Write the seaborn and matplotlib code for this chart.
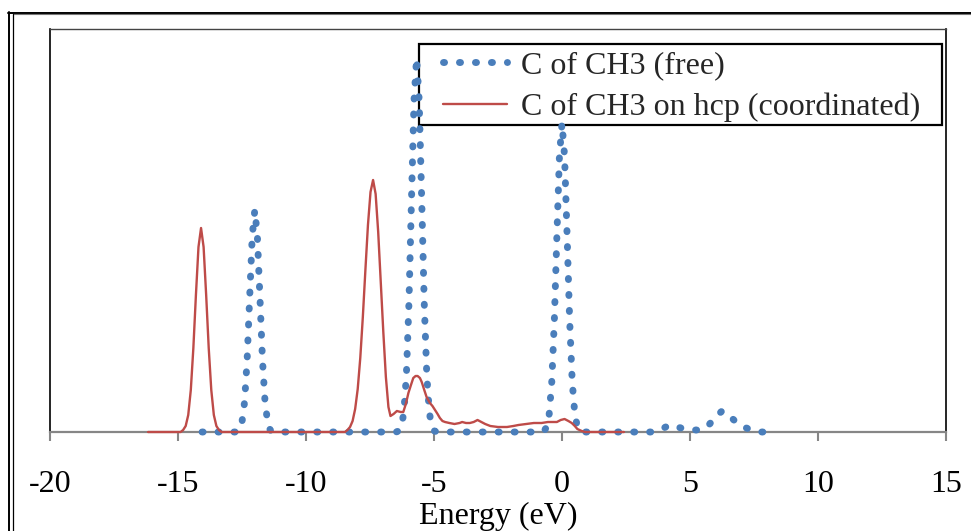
import matplotlib
matplotlib.use("Agg")
import matplotlib.pyplot as plt
import pandas as pd
import seaborn as sns
from matplotlib.lines import Line2D
from matplotlib.patches import Rectangle

# DOS values (arbitrary units)
energy_free = [
    -14.06, -12.7, -12.6, -12.5, -12.4, -12.3, -12.2, -12.1, -12.0, -11.9,
    -11.8, -11.7, -11.6, -11.5, -11.4, -11.3,
    -6.48, -6.38, -6.28, -6.18, -6.08, -5.98, -5.88, -5.78, -5.68, -5.58,
    -5.48, -5.38, -5.28, -5.18, -5.08, -4.98, -4.88,
    -0.8, -0.7, -0.6, -0.5, -0.4, -0.3, -0.2, -0.1, 0.0, 0.1, 0.2, 0.3,
    0.4, 0.5, 0.6, 0.7, 0.8,
    3.5, 3.9, 4.2, 4.5, 4.8, 5.1, 5.4, 5.7, 6.0, 6.25, 6.5, 6.8, 7.1,
    7.4, 7.7, 8.4,
]
dos_free = [
    0, 0, 0.02, 0.10, 0.30, 0.72, 1.35, 1.96, 2.22, 1.96,
    1.35, 0.72, 0.30, 0.10, 0.02, 0,
    0, 0.01, 0.05, 0.19, 0.56, 1.28, 2.32, 3.32, 3.74, 3.32,
    2.32, 1.28, 0.56, 0.19, 0.05, 0.01, 0,
    0, 0.01, 0.05, 0.18, 0.50, 1.11, 1.96, 2.76, 3.09, 2.76, 1.96, 1.11,
    0.50, 0.18, 0.05, 0.01, 0,
    0, 0.03, 0.07, 0.05, 0.03, 0.02, 0.02, 0.06, 0.15, 0.21, 0.17, 0.10,
    0.05, 0.02, 0, 0,
]
energy_coord = [
    -16.17, -14.9, -14.8, -14.7, -14.6, -14.5, -14.4, -14.3, -14.2, -14.1,
    -14.0, -13.9, -13.8, -13.7, -13.6, -13.5, -13.4, -13.3,
    -8.48, -8.38, -8.28, -8.18, -8.08, -7.98, -7.88, -7.78, -7.68, -7.58,
    -7.48, -7.38, -7.28, -7.18, -7.08, -6.98, -6.88, -6.78, -6.70, -6.58,
    -6.45, -6.30, -6.20, -6.10, -6.00, -5.90, -5.81, -5.72, -5.64, -5.55,
    -5.48, -5.38, -5.29, -5.16, -5.06, -4.96, -4.86, -4.77, -4.67, -4.57,
    -4.40, -4.20, -4.00, -3.90, -3.75, -3.60, -3.45, -3.30, -3.15, -3.00,
    -2.80, -2.50, -2.15, -1.90, -1.70, -1.40, -1.10, -0.80, -0.55, -0.35,
    -0.20, -0.05, 0.10, 0.25, 0.38, 0.50, 0.60, 0.77, 0.90, 2.42,
]
dos_coord = [
    0, 0, 0.02, 0.06, 0.17, 0.42, 0.84, 1.37, 1.85, 2.04,
    1.85, 1.37, 0.84, 0.42, 0.17, 0.06, 0.02, 0,
    0, 0.02, 0.05, 0.11, 0.23, 0.43, 0.74, 1.15, 1.62, 2.07,
    2.40, 2.52, 2.38, 2.00, 1.50, 1.00, 0.55, 0.25, 0.16, 0.18,
    0.21, 0.20, 0.20, 0.28, 0.39, 0.47, 0.54, 0.56, 0.56, 0.54,
    0.50, 0.42, 0.35, 0.29, 0.26, 0.22, 0.18, 0.14, 0.11, 0.10,
    0.09, 0.08, 0.09, 0.10, 0.09, 0.09, 0.10, 0.12, 0.10, 0.08,
    0.06, 0.05, 0.05, 0.06, 0.07, 0.08, 0.09, 0.09, 0.10, 0.10,
    0.10, 0.12, 0.13, 0.11, 0.09, 0.06, 0.03, 0.01, 0, 0,
]
series_labels = ["C of CH3 (free)", "C of CH3 on hcp (coordinated)"]
x_ticks = [-20, -15, -10, -5, 0, 5, 10, 15]

sns.set_theme(style="white")
plt.rcParams["font.family"] = ["Liberation Serif", "DejaVu Serif"]
plt.rcParams["axes.unicode_minus"] = False

W, H = 971, 531


def fx(px):
    return px / W


def fy(py):
    return 1 - py / H


fig = plt.figure(figsize=(W / 100, H / 100), dpi=100)
ax = fig.add_axes([fx(50), fy(432), fx(946) - fx(50), fy(29) - fy(432)])

blue = "#4A7EBB"
red = "#BE4B48"
gray = "#868686"

df_free = pd.DataFrame({"energy": energy_free, "dos": dos_free})
df_coord = pd.DataFrame({"energy": energy_coord, "dos": dos_coord})
sns.lineplot(data=df_free, x="energy", y="dos", ax=ax, color=blue,
             estimator=None, sort=False)
sns.lineplot(data=df_coord, x="energy", y="dos", ax=ax, color=red,
             estimator=None, sort=False)
line_free, line_coord = ax.lines[0], ax.lines[1]
line_free.set_linewidth(5.0)
line_free.set_linestyle((0, (0.15, 2.15)))
line_free.set_dash_capstyle("round")
line_coord.set_linewidth(1.7)
line_coord.set_linestyle("-")
for ln in ax.lines:
    ln.set_clip_on(False)
    ln.set_zorder(3)

ax.set_xlim(-20, 15)
ax.set_ylim(0, 4.03)
ax.set_xticks(x_ticks)
ax.set_xticklabels([str(t) for t in x_ticks])
ax.set_yticks([])
ax.tick_params(axis="x", bottom=True, direction="out", length=6.5, width=1.5,
               color=gray, labelsize=23, pad=21, labelcolor="black")
ax.set_xlabel("Energy (eV)", fontsize=23, labelpad=2, color="black")
ax.set_ylabel("")

ax.spines["bottom"].set_color(gray)
ax.spines["bottom"].set_linewidth(1.6)
for side in ["left", "right"]:
    ax.spines[side].set_color("black")
    ax.spines[side].set_linewidth(1.2)
ax.spines["top"].set_color("#444444")
ax.spines["top"].set_linewidth(1.0)

# legend box
ax.add_patch(Rectangle((fx(419), fy(125)), fx(942) - fx(419), fy(44) - fy(125),
                       transform=fig.transFigure, fill=False, ec="black",
                       lw=1.6, clip_on=False, zorder=2.8))
ax.legend([line_free, line_coord], series_labels, loc="upper left",
          bbox_to_anchor=(fx(443), fy(51)), bbox_transform=fig.transFigure,
          frameon=False, borderpad=0, borderaxespad=0, handlelength=2.0,
          handletextpad=0.45, labelspacing=0.38, fontsize=23)

# outer chart frame
frame = [
    ((8, 971), (12.5, 12.5), "black", 1.4),
    ((13, 971), (14.3, 14.3), "#777777", 0.8),
    ((9.2, 9.2), (12, 531), "black", 1.4),
    ((13.3, 13.3), (14, 531), "black", 0.9),
]
for xs, ys, c, lw in frame:
    fig.add_artist(Line2D([fx(x) for x in xs], [fy(y) for y in ys],
                          transform=fig.transFigure, color=c, lw=lw))

fig.savefig("out.png", dpi=100)
